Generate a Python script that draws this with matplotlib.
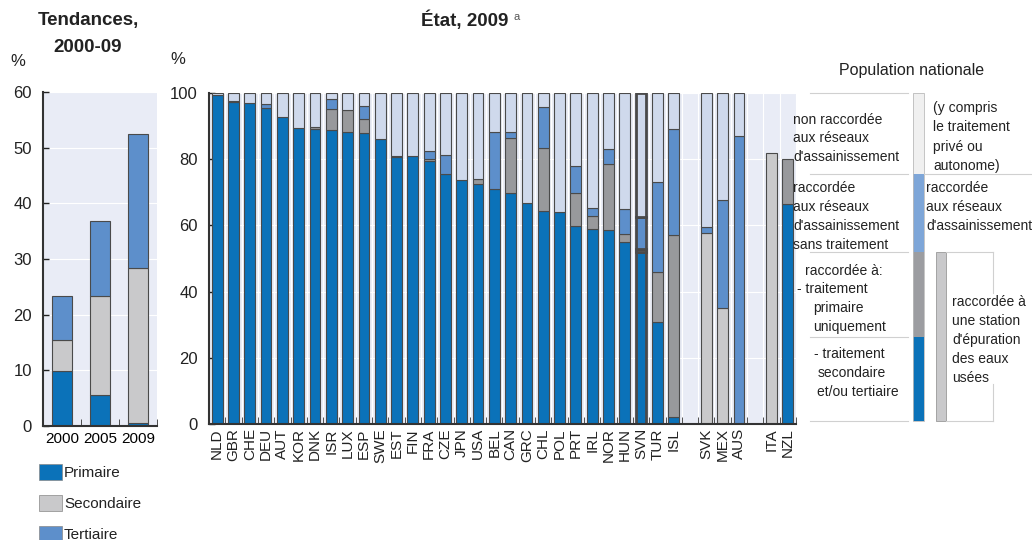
import numpy as np
import matplotlib
matplotlib.use("Agg")
import matplotlib.pyplot as plt
from matplotlib.patches import Rectangle
from matplotlib.lines import Line2D
from matplotlib.transforms import Affine2D

plt.rcParams['font.family'] = ['Liberation Sans', 'DejaVu Sans']

# Trends panel
years = ["2000", "2005", "2009"]
primaire = [9.8, 5.5, 0.5]
secondaire = [5.7, 17.9, 27.9]
tertiaire = [7.9, 13.5, 24.0]

# State panel, 2009
countries = ["NLD", "GBR", "CHE", "DEU", "AUT", "KOR", "DNK", "ISR", "LUX", "ESP",
             "SWE", "EST", "FIN", "FRA", "CZE", "JPN", "USA", "BEL", "CAN", "GRC",
             "CHL", "POL", "PRT", "IRL", "NOR", "HUN", "SVN", "TUR", "ISL",
             "SVK", "MEX", "AUS", "ITA", "NZL"]
gap_after = ["ISL", "AUS"]
station = [0, 0, 0, 0, 0, 0, 0, 0, 0, 0,
           0, 0, 0, 0, 0, 0, 0, 0, 0, 0,
           0, 0, 0, 0, 0, 0, 0, 0, 0,
           57.8, 35.0, 0, 82.0, 0]
sec_tert = [99.3, 97.2, 97.0, 95.4, 92.7, 89.3, 89.1, 88.8, 88.1, 87.8,
            86.0, 80.6, 81.0, 79.4, 75.4, 73.7, 72.5, 71.0, 69.7, 66.9,
            64.3, 64.0, 59.7, 58.8, 58.5, 54.9, 52.0, 30.7, 2.0,
            0, 0, 0, 0, 66.4]
prim_only = [0, 0.5, 0, 0, 0, 0, 0.6, 6.3, 6.8, 4.3,
             0, 0.5, 0, 0.8, 0, 0, 1.4, 0, 16.7, 0,
             19.0, 0, 10.2, 4.0, 20.0, 2.4, 0.8, 15.3, 55.0,
             0, 0, 0, 0, 13.6]
no_treat = [0, 0, 0, 1.2, 0, 0, 0, 3.0, 0, 4.0,
            0, 0, 0, 2.3, 5.8, 0, 0, 17.1, 1.9, 0,
            12.4, 0, 8.1, 2.5, 4.6, 7.6, 9.8, 27.2, 32.0,
            1.8, 32.7, 87.0, 0, 0]
not_conn = [0.7, 2.3, 3.0, 3.4, 7.3, 10.7, 10.3, 1.9, 5.1, 3.9,
            14.0, 18.9, 19.0, 17.5, 18.8, 26.3, 26.1, 11.9, 11.7, 33.1,
            4.3, 36.0, 22.0, 34.7, 16.9, 35.1, 37.4, 26.8, 11.0,
            40.4, 32.3, 13.0, 0, 0]

C_DARK = '#0b72b9'
C_GREY = '#98999c'
C_MED = '#5d8fcb'
C_LIGHT = '#cfd9ec'
C_STAT = '#c9c9cb'
BG = '#e9ecf6'
EDGE = '#4a4a4a'

W, H = 1032, 540
fig = plt.figure(figsize=(W / 100, H / 100), dpi=100)
# pixel coords measured from the top-left corner
pix = Affine2D().scale(1 / W, -1 / H).translate(0, 1) + fig.transFigure


def box(l, t, r, b):
    return [l / W, 1 - b / H, (r - l) / W, (b - t) / H]


def prect(l, t, r, b, **kw):
    fig.add_artist(Rectangle((l, t), r - l, b - t, transform=pix, **kw))


def style_axes(ax, ymax, step):
    ax.set_facecolor(BG)
    for s in ['top', 'right']:
        ax.spines[s].set_visible(False)
    for s in ['left', 'bottom']:
        ax.spines[s].set_color('#333333')
        ax.spines[s].set_linewidth(1.5)
    ax.set_ylim(0, ymax)
    ax.set_yticks(np.arange(0, ymax + 1, step))
    ax.tick_params(axis='y', direction='in', length=4, labelsize=12, colors='#222222',
                   width=1, pad=8)
    ax.yaxis.grid(True, color='white', linewidth=0.8)
    ax.set_axisbelow(True)


# ---- left panel
axl = fig.add_axes(box(43, 92, 157, 426))
style_axes(axl, 60, 10)
xl = np.arange(len(years))
axl.bar(xl, primaire, 0.55, color=C_DARK, edgecolor=EDGE, linewidth=0.8)
axl.bar(xl, secondaire, 0.55, bottom=primaire, color=C_STAT, edgecolor=EDGE, linewidth=0.8)
axl.bar(xl, tertiaire, 0.55, bottom=np.add(primaire, secondaire), color=C_MED,
        edgecolor=EDGE, linewidth=0.8)
axl.set_xlim(-0.5, 2.5)
axl.set_xticks(xl)
axl.set_xticklabels(years)
axl.tick_params(axis='x', which='major', length=0, labelsize=11, pad=4)
axl.set_xticks(np.arange(-0.5, 3, 1), minor=True)
axl.tick_params(axis='x', which='minor', direction='in', length=5, color='#333333')
fig.text(18, 62, "%", transform=pix, fontsize=12, ha='center', va='center', color='#222222')
fig.text(88, 20, "Tendances,", transform=pix, fontsize=13.5, fontweight='bold',
         ha='center', va='center', color='#222222')
fig.text(88, 47, "2000-09", transform=pix, fontsize=13.5, fontweight='bold',
         ha='center', va='center', color='#222222')

leg_items = [("Primaire", C_DARK), ("Secondaire", C_STAT), ("Tertiaire", C_MED)]
for i, (lab, col) in enumerate(leg_items):
    y0 = 464 + i * 31
    prect(39, y0, 62, y0 + 16, facecolor=col, edgecolor='#888888', linewidth=0.5)
    fig.text(64, y0 + 9, lab, transform=pix, fontsize=11, va='center', color='#222222')

# ---- main panel
axm = fig.add_axes(box(209, 93, 796, 424))
style_axes(axm, 100, 20)
pos = []
p = 0
for c in countries:
    pos.append(p)
    p += 2 if c in gap_after else 1
pos = np.array(pos)
nslots = p

bottom = np.zeros(len(countries))
for vals, col in [(station, C_STAT), (sec_tert, C_DARK), (prim_only, C_GREY),
                  (no_treat, C_MED), (not_conn, C_LIGHT)]:
    vals = np.array(vals, dtype=float)
    m = vals > 0
    lw = np.where(np.array(countries)[m] == "SVN", 2.0, 0.8)
    axm.bar(pos[m], vals[m], 0.66, bottom=bottom[m], color=col, edgecolor=EDGE, linewidth=lw)
    bottom += vals
axm.set_xlim(-0.5, nslots - 0.5)
axm.set_xticks(pos)
axm.set_xticklabels(countries, rotation=90)
axm.tick_params(axis='x', which='major', length=0, labelsize=11, pad=3, colors='#222222')
axm.set_xticks(np.arange(-0.5, nslots, 1), minor=True)
axm.tick_params(axis='x', which='minor', direction='in', length=5, color='#333333')
axm.xaxis.grid(True, which='minor', color='white', linewidth=0.8)
fig.text(178, 60, "%", transform=pix, fontsize=12, ha='center', va='center', color='#222222')
fig.text(465, 20, "État, 2009", transform=pix, fontsize=13.5, fontweight='bold',
         ha='center', va='center', color='#222222')
fig.text(513, 17, "a", transform=pix, fontsize=8, ha='left', va='center', color='#555555')

# ---- legend diagram
fig.text(912, 70, "Population nationale", transform=pix, fontsize=11.5,
         ha='center', va='center', color='#222222')

LINE = dict(transform=pix, color='#d0d0d0', linewidth=0.8)
for y in [93, 174, 252, 337, 421]:
    fig.add_artist(Line2D([810, 908], [y, y], **LINE))
fig.add_artist(Line2D([924, 1032], [174, 174], **LINE))
for y in [252, 421]:
    fig.add_artist(Line2D([946, 993], [y, y], **LINE))
fig.add_artist(Line2D([993, 993], [252, 293], **LINE))
fig.add_artist(Line2D([993, 993], [384, 421], **LINE))

for top, bot, col in [(93, 174, '#f0f0f0'), (174, 252, '#7ea6d8'),
                      (252, 337, '#9c9da1'), (337, 421, C_DARK)]:
    prect(913, top, 924, bot, facecolor=col, edgecolor='none')
prect(913, 93, 924, 421, facecolor='none', edgecolor='#bbbbbb', linewidth=0.6)
prect(936, 252, 946, 421, facecolor=C_STAT, edgecolor='#999999', linewidth=0.6)


def ltxt(x, y, s):
    fig.text(x, y, s, transform=pix, fontsize=10, ha='left', va='center', color='#222222')


for i, s in enumerate(["non raccordée", "aux réseaux", "d'assainissement"]):
    ltxt(793, 120 + i * 18.5, s)
for i, s in enumerate(["(y compris", "le traitement", "privé ou", "autonome)"]):
    ltxt(933, 108 + i * 19.3, s)
for i, s in enumerate(["raccordée", "aux réseaux", "d'assainissement", "sans traitement"]):
    ltxt(793, 188 + i * 19, s)
for i, s in enumerate(["raccordée", "aux réseaux", "d'assainissement"]):
    ltxt(926, 188 + i * 19, s)
ltxt(805, 271, "raccordée à:")
ltxt(797, 289, "- traitement")
ltxt(813, 308, "primaire")
ltxt(813, 327, "uniquement")
ltxt(814, 354, "- traitement")
ltxt(818, 373, "secondaire")
ltxt(817, 392, "et/ou tertiaire")
for i, s in enumerate(["raccordée à", "une station", "d'épuration", "des eaux", "usées"]):
    ltxt(952, 302 + i * 19, s)

fig.savefig("out.png", dpi=100)
